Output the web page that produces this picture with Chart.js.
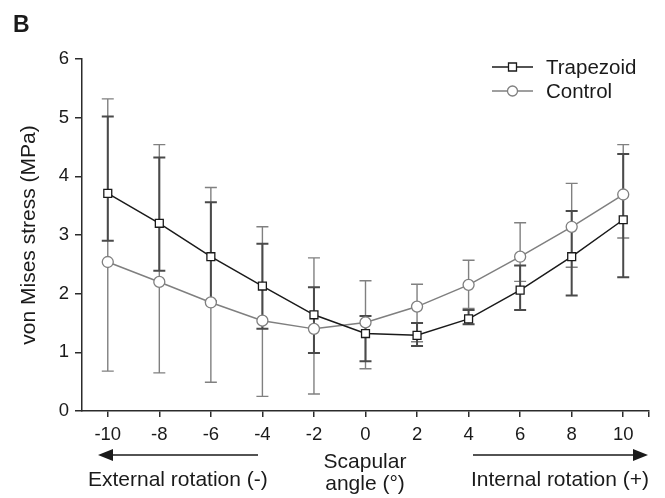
<!DOCTYPE html>
<html>
<head>
<meta charset="utf-8">
<script src="https://cdn.jsdelivr.net/npm/chart.js@4/dist/chart.umd.min.js"></script>
<style>
    html, body { margin: 0; padding: 0; background: #ffffff; }
    #wrap { width: 665px; height: 498px; position: relative; }
</style>
</head>
<body>
<div id="wrap"><canvas id="stressChart"></canvas></div>
<script>
// 肩胛角度 vs von Mises stress，兩組：Trapezoid / Control，誤差線上下不對稱，所以分開存上下限
const angles = [-10, -8, -6, -4, -2, 0, 2, 4, 6, 8, 10];

const trapezoidMean = [3.71, 3.20, 2.63, 2.13, 1.64, 1.32, 1.29, 1.57, 2.06, 2.63, 3.26];
const trapezoidLow  = [2.90, 2.39, 1.87, 1.40, 0.99, 0.85, 1.11, 1.48, 1.72, 1.97, 2.28];
const trapezoidHigh = [5.02, 4.32, 3.56, 2.85, 2.11, 1.62, 1.50, 1.72, 2.48, 3.41, 4.38];

const controlMean = [2.54, 2.20, 1.85, 1.54, 1.40, 1.51, 1.78, 2.15, 2.63, 3.14, 3.69];
const controlLow  = [0.68, 0.65, 0.49, 0.25, 0.29, 0.72, 1.18, 1.75, 2.21, 2.45, 2.95];
const controlHigh = [5.32, 4.54, 3.81, 3.14, 2.61, 2.22, 2.16, 2.57, 3.21, 3.88, 4.54];

const yTicks = [0, 1, 2, 3, 4, 5, 6];

const FONT = "'Liberation Sans', Arial, sans-serif";
const AXIS_COLOR = "#2b2b2b";
const TRAP_COLOR = "#1a1a1a";
const CTRL_COLOR = "#7f7f7f";

// 誤差線：先畫 Control（淺灰），再畫 Trapezoid（深灰）
const errorBarPlugin = {
    id: "errorBars",
    beforeDatasetsDraw(chart) {
        const { ctx, scales: { x, y } } = chart;
        const bars = [
            { low: controlLow, high: controlHigh, color: "#808080", width: 1.4 },
            { low: trapezoidLow, high: trapezoidHigh, color: "#4a4a4a", width: 2 }
        ];
        const cap = 6;
        ctx.save();
        bars.forEach((bar) => {
            ctx.strokeStyle = bar.color;
            ctx.lineWidth = bar.width;
            angles.forEach((a, i) => {
                const px = x.getPixelForValue(a);
                const top = y.getPixelForValue(bar.high[i]);
                const bottom = y.getPixelForValue(bar.low[i]);
                ctx.beginPath();
                ctx.moveTo(px, top);
                ctx.lineTo(px, bottom);
                ctx.moveTo(px - cap, top);
                ctx.lineTo(px + cap, top);
                ctx.moveTo(px - cap, bottom);
                ctx.lineTo(px + cap, bottom);
                ctx.stroke();
            });
        });
        ctx.restore();
    }
};

function drawArrow(ctx, x1, x2, y) {
    // 從 x1 畫到 x2，箭頭在 x2
    const dir = x2 > x1 ? 1 : -1;
    const head = 15;
    ctx.beginPath();
    ctx.moveTo(x1, y);
    ctx.lineTo(x2 - dir * head, y);
    ctx.stroke();
    ctx.beginPath();
    ctx.moveTo(x2, y);
    ctx.lineTo(x2 - dir * head, y - 6);
    ctx.lineTo(x2 - dir * head, y + 6);
    ctx.closePath();
    ctx.fill();
}

// 圖例、面板字母 B、下方的旋轉方向說明
const annotationPlugin = {
    id: "annotations",
    afterDraw(chart) {
        const { ctx } = chart;
        ctx.save();

        ctx.fillStyle = "#1a1a1a";
        ctx.font = "bold 23px " + FONT;
        ctx.textAlign = "left";
        ctx.textBaseline = "alphabetic";
        ctx.fillText("B", 13, 32);

        // 圖例
        const legendRows = [
            { label: "Trapezoid", color: TRAP_COLOR, style: "rect", y: 67 },
            { label: "Control", color: CTRL_COLOR, style: "circle", y: 91 }
        ];
        legendRows.forEach((row) => {
            ctx.strokeStyle = row.color;
            ctx.lineWidth = 1.5;
            ctx.beginPath();
            ctx.moveTo(492, row.y);
            ctx.lineTo(533, row.y);
            ctx.stroke();
            ctx.fillStyle = "#ffffff";
            ctx.lineWidth = 1.3;
            ctx.beginPath();
            if (row.style === "rect") {
                ctx.rect(508.5, row.y - 4, 8, 8);
            } else {
                ctx.arc(512.5, row.y, 5, 0, Math.PI * 2);
            }
            ctx.fill();
            ctx.stroke();
            ctx.fillStyle = "#1a1a1a";
            ctx.font = "20.5px " + FONT;
            ctx.textBaseline = "middle";
            ctx.fillText(row.label, 546, row.y + 1);
        });

        // 下方箭頭與說明
        ctx.strokeStyle = "#1a1a1a";
        ctx.fillStyle = "#1a1a1a";
        ctx.lineWidth = 1.5;
        drawArrow(ctx, 258, 98, 455);
        drawArrow(ctx, 473, 648, 455);

        ctx.font = "21px " + FONT;
        ctx.textBaseline = "alphabetic";
        ctx.textAlign = "left";
        ctx.fillText("External rotation (-)", 88, 486);
        ctx.fillText("Internal rotation (+)", 471, 486);
        ctx.textAlign = "center";
        ctx.fillText("Scapular", 365, 468);
        ctx.fillText("angle (°)", 365, 490);

        ctx.restore();
    }
};

const chart = new Chart(document.getElementById("stressChart"), {
    type: "line",
    data: {
        datasets: [
            {
                label: "Trapezoid",
                data: angles.map((a, i) => ({ x: a, y: trapezoidMean[i] })),
                borderColor: TRAP_COLOR,
                borderWidth: 1.5,
                pointStyle: "rect",
                pointRadius: 5.6,
                pointBackgroundColor: "#ffffff",
                pointBorderColor: TRAP_COLOR,
                pointBorderWidth: 1.3,
                tension: 0
            },
            {
                label: "Control",
                data: angles.map((a, i) => ({ x: a, y: controlMean[i] })),
                borderColor: CTRL_COLOR,
                borderWidth: 1.5,
                pointStyle: "circle",
                pointRadius: 5.5,
                pointBackgroundColor: "#ffffff",
                pointBorderColor: CTRL_COLOR,
                pointBorderWidth: 1.3,
                tension: 0
            }
        ]
    },
    options: {
        responsive: true,
        maintainAspectRatio: false,
        animation: false,
        layout: { padding: { top: 59, right: 16, left: 0, bottom: 0 } },
        plugins: {
            legend: { display: false },
            tooltip: { enabled: false }
        },
        scales: {
            x: {
                type: "linear",
                min: -11,
                max: 11,
                afterBuildTicks: (scale) => {
                    scale.ticks = angles.concat([11]).map((v) => ({ value: v }));
                },
                afterFit: (scale) => { scale.height = 87; },
                ticks: {
                    autoSkip: false,
                    maxRotation: 0,
                    padding: 7,
                    color: "#1a1a1a",
                    font: { family: FONT, size: 18.5 },
                    callback: (value) => (value === 11 ? "" : String(value))
                },
                grid: {
                    drawOnChartArea: false,
                    drawTicks: true,
                    tickLength: 6,
                    color: AXIS_COLOR,
                    lineWidth: 1.5
                },
                border: { display: true, color: AXIS_COLOR, width: 1.5 }
            },
            y: {
                min: 0,
                max: 6,
                afterBuildTicks: (scale) => {
                    scale.ticks = yTicks.map((v) => ({ value: v }));
                },
                afterFit: (scale) => { scale.width = 82; },
                ticks: {
                    padding: 6,
                    color: "#1a1a1a",
                    font: { family: FONT, size: 18.5 }
                },
                grid: {
                    drawOnChartArea: false,
                    drawTicks: true,
                    tickLength: 7,
                    color: AXIS_COLOR,
                    lineWidth: 1.5
                },
                border: { display: true, color: AXIS_COLOR, width: 1.5 },
                title: {
                    display: true,
                    text: "von Mises stress (MPa)",
                    color: "#1a1a1a",
                    font: { family: FONT, size: 21 },
                    padding: { top: 17, bottom: 0 }
                }
            }
        }
    },
    plugins: [errorBarPlugin, annotationPlugin]
});
</script>
</body>
</html>
